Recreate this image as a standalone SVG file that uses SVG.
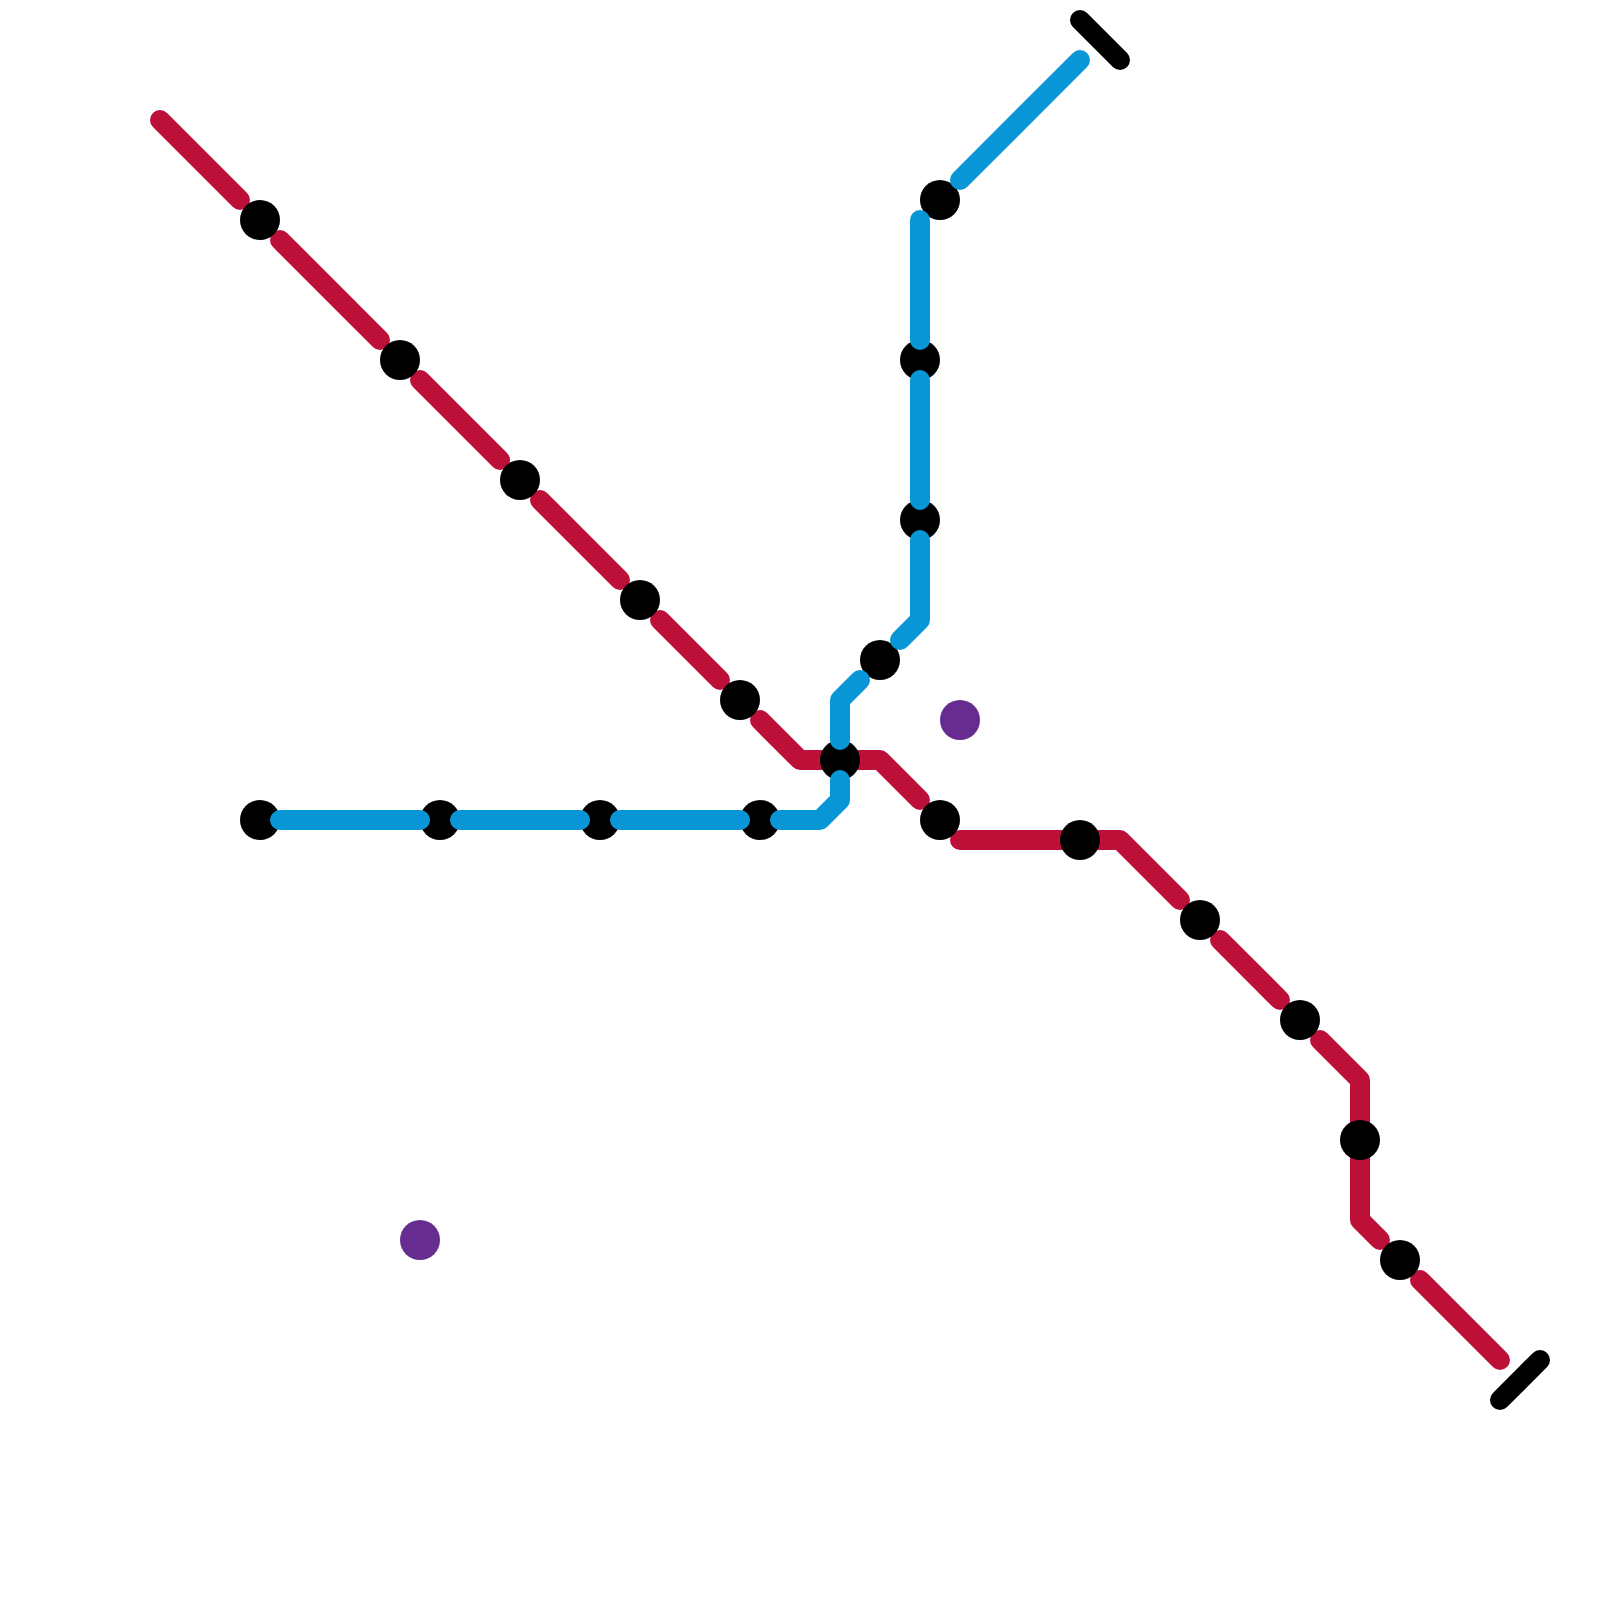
<svg xmlns="http://www.w3.org/2000/svg" width="1600" height="1600" viewBox="0 0 1600 1600">
<style>
.l{fill:none;stroke-width:20;stroke-linecap:round;stroke-linejoin:round}
.r{stroke:#bd1038}.b{stroke:#0896d7}.k{stroke:#000}
.s{fill:#000}.p{fill:#662c90}
</style>
<rect width="1600" height="1600" fill="#fff"/>
<g id="connectors-under">
<path class="l k" d="M1080 20L1120 60"/>
<path class="l k" d="M1500 1400L1540 1360"/>
<path class="l r" d="M160 120L240 200"/>
<path class="l r" d="M280 240L380 340"/>
<path class="l r" d="M420 380L500 460"/>
<path class="l r" d="M540 500L620 580"/>
<path class="l r" d="M660 620L720 680"/>
<path class="l r" d="M760 720L800 760H880L920 800"/>
<path class="l r" d="M960 840H1120L1180 900"/>
<path class="l r" d="M1220 940L1280 1000"/>
<path class="l r" d="M1320 1040L1360 1080V1220L1380 1240"/>
<path class="l r" d="M1420 1280L1500 1360"/>
</g>
<g id="stations">
<circle id="s1" class="s" cx="260" cy="220" r="20"/>
<circle id="s2" class="s" cx="400" cy="360" r="20"/>
<circle id="s3" class="s" cx="520" cy="480" r="20"/>
<circle id="s4" class="s" cx="640" cy="600" r="20"/>
<circle id="s5" class="s" cx="740" cy="700" r="20"/>
<circle id="s6" class="s" cx="840" cy="760" r="20"/>
<circle id="s7" class="s" cx="940" cy="820" r="20"/>
<circle id="s8" class="s" cx="1080" cy="840" r="20"/>
<circle id="s9" class="s" cx="1200" cy="920" r="20"/>
<circle id="s10" class="s" cx="1300" cy="1020" r="20"/>
<circle id="s11" class="s" cx="1360" cy="1140" r="20"/>
<circle id="s12" class="s" cx="1400" cy="1260" r="20"/>
<circle id="s13" class="s" cx="260" cy="820" r="20"/>
<circle id="s14" class="s" cx="440" cy="820" r="20"/>
<circle id="s15" class="s" cx="600" cy="820" r="20"/>
<circle id="s16" class="s" cx="760" cy="820" r="20"/>
<circle id="s17" class="s" cx="880" cy="660" r="20"/>
<circle id="s18" class="s" cx="920" cy="520" r="20"/>
<circle id="s19" class="s" cx="920" cy="360" r="20"/>
<circle id="s20" class="s" cx="940" cy="200" r="20"/>
<circle id="p1" class="p" cx="960" cy="720" r="20"/>
<circle id="p2" class="p" cx="420" cy="1240" r="20"/>
</g>
<g id="connectors-over">
<path class="l b" d="M280 820H420"/>
<path class="l b" d="M460 820H580"/>
<path class="l b" d="M620 820H740"/>
<path class="l b" d="M780 820H820L840 800V780"/>
<path class="l b" d="M840 740V700L860 680"/>
<path class="l b" d="M900 640L920 620V540"/>
<path class="l b" d="M920 500V380"/>
<path class="l b" d="M920 340V220"/>
<path class="l b" d="M960 180L1080 60"/>
</g>
</svg>
